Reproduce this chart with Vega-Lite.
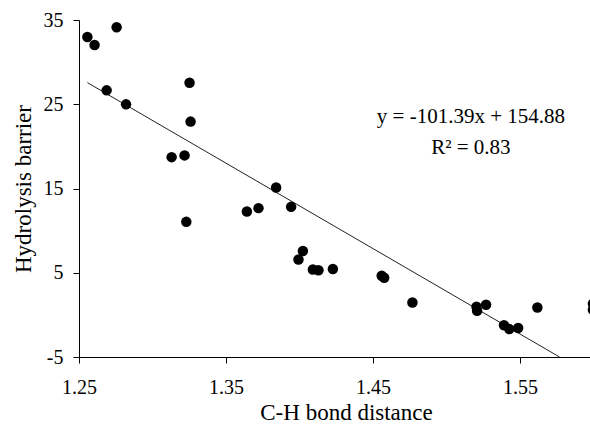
{
  "$schema": "https://vega.github.io/schema/vega-lite/v6.json",
  "autosize": "none",
  "width": 511,
  "height": 337,
  "padding": {"left": 79, "top": 20, "right": 0, "bottom": 69},
  "background": "white",
  "config": {
    "view": {"stroke": null},
    "font": "Liberation Serif",
    "axis": {
      "domainColor": "black",
      "tickColor": "black",
      "labelColor": "black",
      "titleColor": "black",
      "labelFont": "Liberation Serif",
      "titleFont": "Liberation Serif",
      "labelFontSize": 20,
      "titleFontSize": 23,
      "titleFontWeight": "normal",
      "grid": false,
      "tickSize": 6,
      "domainWidth": 1,
      "tickWidth": 1
    }
  },
  "datasets": {
    "pts": [
      {"d": 1.2557, "b": 32.98},
      {"d": 1.2606, "b": 32.03},
      {"d": 1.2756, "b": 34.13},
      {"d": 1.2688, "b": 26.65},
      {"d": 1.2820, "b": 24.99},
      {"d": 1.3252, "b": 27.55},
      {"d": 1.3259, "b": 22.94},
      {"d": 1.3130, "b": 18.72},
      {"d": 1.3218, "b": 18.93},
      {"d": 1.3230, "b": 11.04},
      {"d": 1.3642, "b": 12.27},
      {"d": 1.3721, "b": 12.67},
      {"d": 1.3841, "b": 15.12},
      {"d": 1.3943, "b": 12.82},
      {"d": 1.4023, "b": 7.59},
      {"d": 1.3993, "b": 6.57},
      {"d": 1.4091, "b": 5.38},
      {"d": 1.4129, "b": 5.30},
      {"d": 1.4227, "b": 5.45},
      {"d": 1.4559, "b": 4.65},
      {"d": 1.4576, "b": 4.41},
      {"d": 1.4768, "b": 1.46},
      {"d": 1.5204, "b": 0.96},
      {"d": 1.5208, "b": 0.49},
      {"d": 1.5269, "b": 1.20},
      {"d": 1.5391, "b": -1.23},
      {"d": 1.5427, "b": -1.69},
      {"d": 1.5487, "b": -1.55},
      {"d": 1.5618, "b": 0.87},
      {"d": 1.5996, "b": 1.32},
      {"d": 1.5996, "b": 0.61}
    ],
    "trend": [
      {"d": 1.2557, "b": 27.565},
      {"d": 1.5769, "b": -5}
    ],
    "notes": [
      {"d": 1.5166, "b": 23.48, "t": "y = -101.39x + 154.88"},
      {"d": 1.5166, "b": 19.83, "t": "R² = 0.83"}
    ]
  },
  "layer": [
    {
      "data": {"name": "trend"},
      "mark": {"type": "line", "color": "#222222", "strokeWidth": 1, "clip": true},
      "encoding": {
        "x": {"field": "d", "type": "quantitative", "scale": {"domain": [1.25, 1.5976], "nice": false, "zero": false},
          "axis": {"values": [1.25, 1.35, 1.45, 1.55], "format": ".2f", "title": "C-H bond distance", "labelPadding": 14, "titlePadding": 4, "titleX": 267, "labelFlush": false}},
        "y": {"field": "b", "type": "quantitative", "scale": {"domain": [-5, 35], "nice": false, "zero": false},
          "axis": {"values": [-5, 5, 15, 25, 35], "labelExpr": "'' + datum.value", "title": "Hydrolysis barrier", "labelPadding": 10, "titlePadding": 8}}
      }
    },
    {
      "data": {"name": "pts"},
      "mark": {"type": "point", "filled": true, "shape": "circle", "size": 110, "color": "black", "opacity": 1, "clip": true},
      "encoding": {
        "x": {"field": "d", "type": "quantitative"},
        "y": {"field": "b", "type": "quantitative"}
      }
    },
    {
      "data": {"name": "notes"},
      "mark": {"type": "text", "font": "Liberation Serif", "fontSize": 21, "color": "black", "align": "center", "baseline": "middle"},
      "encoding": {
        "x": {"field": "d", "type": "quantitative"},
        "y": {"field": "b", "type": "quantitative"},
        "text": {"field": "t"}
      }
    }
  ]
}
